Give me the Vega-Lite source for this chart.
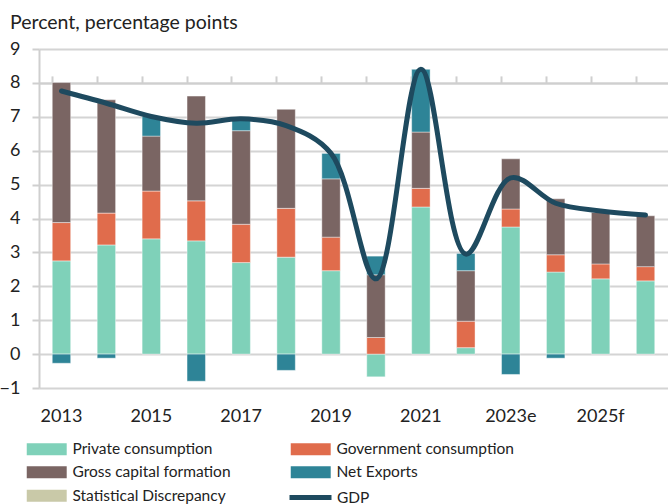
{
  "$schema": "https://vega.github.io/schema/vega-lite/v6.json",
  "width": 629,
  "height": 339,
  "autosize": {"type": "none"},
  "padding": {"left": 39, "top": 49, "right": 0, "bottom": 116},
  "background": "white",
  "config": {
    "font": "Lato",
    "view": {"stroke": null},
    "axis": {"labelFont": "Lato", "labelColor": "#222222", "labelFontSize": 18},
    "axisY": {
      "values": [-1, 0, 1, 2, 3, 4, 5, 6, 7, 8, 9],
      "title": null,
      "domainColor": "#cfcfcf",
      "domainWidth": 2,
      "tickColor": "#cfcfcf",
      "tickWidth": 2,
      "tickSize": 7,
      "gridColor": "#d4d4d4",
      "gridWidth": 2,
      "labelPadding": 12,
      "labelOverlap": false
    }
  },
  "title": {
    "text": "Percent, percentage points",
    "anchor": "start",
    "frame": "group",
    "dx": -29,
    "offset": 7,
    "fontSize": 19.5,
    "fontWeight": "normal",
    "color": "#222222",
    "font": "Lato"
  },
  "datasets": {
    "bars": [
      {"year": "2013", "component": "Private consumption", "value": 2.75},
      {"year": "2013", "component": "Government consumption", "value": 1.13},
      {"year": "2013", "component": "Gross capital formation", "value": 4.13},
      {"year": "2013", "component": "Net Exports", "value": -0.27},
      {"year": "2014", "component": "Private consumption", "value": 3.22},
      {"year": "2014", "component": "Government consumption", "value": 0.94},
      {"year": "2014", "component": "Gross capital formation", "value": 3.34},
      {"year": "2014", "component": "Net Exports", "value": -0.12},
      {"year": "2015", "component": "Private consumption", "value": 3.4},
      {"year": "2015", "component": "Government consumption", "value": 1.41},
      {"year": "2015", "component": "Gross capital formation", "value": 1.62},
      {"year": "2015", "component": "Net Exports", "value": 0.58},
      {"year": "2016", "component": "Private consumption", "value": 3.34},
      {"year": "2016", "component": "Government consumption", "value": 1.18},
      {"year": "2016", "component": "Gross capital formation", "value": 3.09},
      {"year": "2016", "component": "Net Exports", "value": -0.8},
      {"year": "2017", "component": "Private consumption", "value": 2.7},
      {"year": "2017", "component": "Government consumption", "value": 1.13},
      {"year": "2017", "component": "Gross capital formation", "value": 2.76},
      {"year": "2017", "component": "Net Exports", "value": 0.35},
      {"year": "2018", "component": "Private consumption", "value": 2.86},
      {"year": "2018", "component": "Government consumption", "value": 1.44},
      {"year": "2018", "component": "Gross capital formation", "value": 2.92},
      {"year": "2018", "component": "Net Exports", "value": -0.48},
      {"year": "2019", "component": "Private consumption", "value": 2.46},
      {"year": "2019", "component": "Government consumption", "value": 0.99},
      {"year": "2019", "component": "Gross capital formation", "value": 1.72},
      {"year": "2019", "component": "Net Exports", "value": 0.75},
      {"year": "2020", "component": "Private consumption", "value": -0.67},
      {"year": "2020", "component": "Government consumption", "value": 0.49},
      {"year": "2020", "component": "Gross capital formation", "value": 1.85},
      {"year": "2020", "component": "Net Exports", "value": 0.55},
      {"year": "2021", "component": "Private consumption", "value": 4.34},
      {"year": "2021", "component": "Government consumption", "value": 0.55},
      {"year": "2021", "component": "Gross capital formation", "value": 1.66},
      {"year": "2021", "component": "Net Exports", "value": 1.85},
      {"year": "2022", "component": "Private consumption", "value": 0.19},
      {"year": "2022", "component": "Government consumption", "value": 0.78},
      {"year": "2022", "component": "Gross capital formation", "value": 1.49},
      {"year": "2022", "component": "Net Exports", "value": 0.51},
      {"year": "2023e", "component": "Private consumption", "value": 3.75},
      {"year": "2023e", "component": "Government consumption", "value": 0.53},
      {"year": "2023e", "component": "Gross capital formation", "value": 1.48},
      {"year": "2023e", "component": "Net Exports", "value": -0.6},
      {"year": "2024f", "component": "Private consumption", "value": 2.42},
      {"year": "2024f", "component": "Government consumption", "value": 0.51},
      {"year": "2024f", "component": "Gross capital formation", "value": 1.65},
      {"year": "2024f", "component": "Net Exports", "value": -0.12},
      {"year": "2025f", "component": "Private consumption", "value": 2.22},
      {"year": "2025f", "component": "Government consumption", "value": 0.44},
      {"year": "2025f", "component": "Gross capital formation", "value": 1.52},
      {"year": "2026f", "component": "Private consumption", "value": 2.16},
      {"year": "2026f", "component": "Government consumption", "value": 0.42},
      {"year": "2026f", "component": "Gross capital formation", "value": 1.5}
    ],
    "gdp": [
      {"year": "2013", "series": "GDP", "value": 7.76},
      {"year": "2014", "series": "GDP", "value": 7.4},
      {"year": "2015", "series": "GDP", "value": 7.01},
      {"year": "2016", "series": "GDP", "value": 6.81},
      {"year": "2017", "series": "GDP", "value": 6.94},
      {"year": "2018", "series": "GDP", "value": 6.74},
      {"year": "2019", "series": "GDP", "value": 5.92},
      {"year": "2020", "series": "GDP", "value": 2.22},
      {"year": "2021", "series": "GDP", "value": 8.4},
      {"year": "2022", "series": "GDP", "value": 2.95},
      {"year": "2023e", "series": "GDP", "value": 5.2},
      {"year": "2024f", "series": "GDP", "value": 4.45},
      {"year": "2025f", "series": "GDP", "value": 4.22},
      {"year": "2026f", "series": "GDP", "value": 4.1}
    ]
  },
  "layer": [
    {
      "data": {"name": "bars"},
      "transform": [
        {"window": [{"op": "row_number", "as": "stackRank"}], "groupby": ["year"]}
      ],
      "mark": {"type": "bar", "stroke": "#ffffff", "strokeWidth": 0.6, "strokeOpacity": 0.7},
      "encoding": {
        "x": {
          "field": "year",
          "type": "ordinal",
          "sort": null,
          "scale": {
            "domain": ["2013", "2014", "2015", "2016", "2017", "2018", "2019", "2020", "2021", "2022", "2023e", "2024f", "2025f", "2026f"],
            "paddingInner": 0.59,
            "paddingOuter": 0.295
          },
          "axis": {
            "values": ["2013", "2015", "2017", "2019", "2021", "2023e", "2025f"],
            "title": null,
            "domain": false,
            "ticks": false,
            "tickSize": 0,
            "grid": false,
            "labelAngle": 0,
            "labelPadding": 19,
            "labelOverlap": false
          }
        },
        "y": {
          "field": "value",
          "type": "quantitative",
          "stack": "zero",
          "scale": {"domain": [-1, 9], "nice": false, "zero": false}
        },
        "order": {"field": "stackRank", "type": "quantitative"},
        "color": {
          "field": "component",
          "type": "nominal",
          "scale": {
            "domain": ["Private consumption", "Government consumption", "Gross capital formation", "Net Exports", "Statistical Discrepancy"],
            "range": ["#7fd1b9", "#e06c4c", "#7a6563", "#2e8497", "#c9c9a8"]
          },
          "legend": {
            "orient": "none",
            "legendX": -14,
            "legendY": 392,
            "direction": "horizontal",
            "columns": 2,
            "title": null,
            "labelFont": "Lato",
            "labelFontSize": 15.5,
            "labelColor": "#222222",
            "labelLimit": 400,
            "symbolSize": 144,
            "symbolType": "M-1,-1h6.66v2h-6.66z",
            "symbolStrokeWidth": 0,
            "symbolOpacity": 1,
            "labelOffset": 32,
            "columnPadding": 58,
            "rowPadding": 6.5,
            "padding": 0
          }
        }
      }
    },
    {
      "data": {"name": "gdp"},
      "mark": {"type": "line", "interpolate": "catmull-rom", "strokeWidth": 5, "strokeCap": "round", "strokeJoin": "round"},
      "encoding": {
        "x": {
          "field": "year",
          "type": "ordinal",
          "sort": null,
          "axis": {
            "title": null,
            "labels": false,
            "grid": false,
            "domain": true,
            "domainColor": "#cfcfcf",
            "domainWidth": 2,
            "ticks": true,
            "tickColor": "#cfcfcf",
            "tickWidth": 2,
            "tickSize": 7,
            "bandPosition": 0,
            "offset": -33.9
          }
        },
        "y": {"field": "value", "type": "quantitative"},
        "stroke": {
          "field": "series",
          "type": "nominal",
          "scale": {"domain": ["GDP"], "range": ["#1e4a5f"]},
          "legend": {
            "orient": "none",
            "legendX": 245,
            "legendY": 440,
            "title": null,
            "labelFont": "Lato",
            "labelFontSize": 15.5,
            "labelColor": "#222222",
            "symbolSize": 144,
            "symbolType": "M-0.5,0H6.5",
            "symbolStrokeWidth": 5,
            "symbolOpacity": 1,
            "labelOffset": 36,
            "padding": 0
          }
        }
      }
    }
  ],
  "resolve": {"axis": {"x": "independent"}}
}
